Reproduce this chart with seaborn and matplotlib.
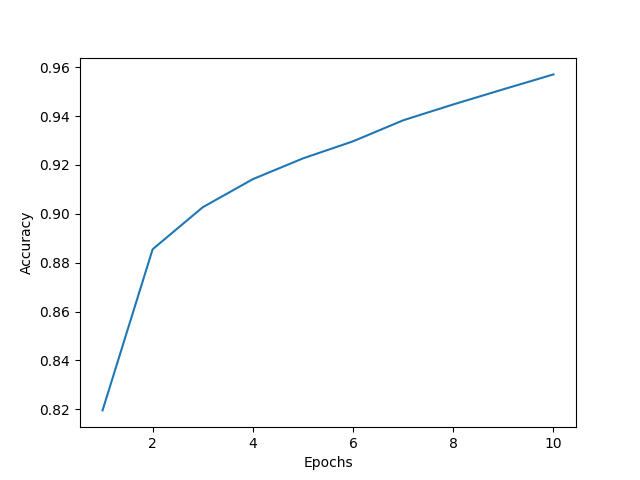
import pandas as pd
import seaborn as sns
import matplotlib.pyplot as plt

# accuracy per epoch
epochs = [1, 2, 3, 4, 5, 6, 7, 8, 9, 10]
accuracy = [0.8195, 0.8855, 0.9027, 0.9142, 0.9227, 0.9297, 0.9383, 0.9448, 0.9510, 0.9571]

df = pd.DataFrame({'Epochs': epochs, 'Accuracy': accuracy})

fig, ax = plt.subplots(figsize=(6.4, 4.8), dpi=100)
sns.lineplot(data=df, x='Epochs', y='Accuracy', ax=ax, color='#1f77b4')

ax.set_xlabel('Epochs')
ax.set_ylabel('Accuracy')

plt.savefig('out.png')
